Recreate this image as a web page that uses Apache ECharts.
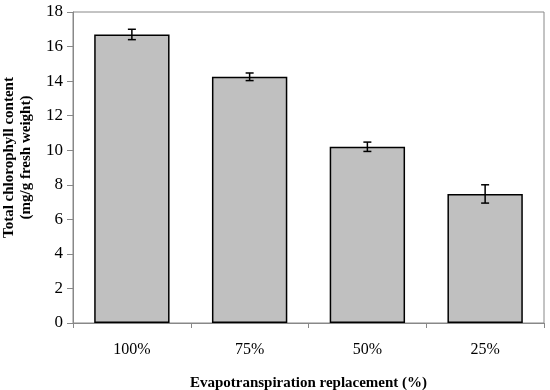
<!DOCTYPE html>
<html>
<head>
<meta charset="utf-8">
<script src="https://cdn.jsdelivr.net/npm/echarts@6/dist/echarts.min.js"></script>
<style>html,body{margin:0;padding:0;background:#fff}#c{width:550px;height:390px}</style>
</head>
<body>
<div id="c"></div>
<script>
const categories = ['100%', '75%', '50%', '25%'];
const values = [16.7, 14.25, 10.2, 7.47];
const errors = [0.3, 0.22, 0.27, 0.53];
const yTicks = [0, 2, 4, 6, 8, 10, 12, 14, 16, 18];

const chart = echarts.init(document.getElementById('c'));
const font = 'Liberation Serif, Times New Roman, serif';
chart.setOption({
  animation: false,
  grid: { left: 73, right: 6, top: 12, bottom: 67, show: true, borderColor: '#888', borderWidth: 1,
          containLabel: false, outerBoundsMode: 'none' },
  xAxis: {
    type: 'category', data: categories,
    axisLine: { lineStyle: { color: '#888', width: 1 } },
    axisTick: { show: true, alignWithLabel: false, length: 5, lineStyle: { color: '#888' } },
    axisLabel: { color: '#000', fontFamily: font, fontSize: 16, margin: 19 },
    name: 'Evapotranspiration replacement (%)', nameLocation: 'middle', nameGap: 53,
    nameTextStyle: { color: '#000', fontFamily: font, fontSize: 15, fontWeight: 'bold' }
  },
  yAxis: {
    type: 'value', min: yTicks[0], max: yTicks[yTicks.length - 1], interval: 2,
    splitLine: { show: false },
    axisLine: { show: true, lineStyle: { color: '#888', width: 1 } },
    axisTick: { show: true, length: 6, lineStyle: { color: '#888' } },
    axisLabel: { color: '#000', fontFamily: font, fontSize: 17, margin: 10 },
    name: 'Total chlorophyll content\n(mg/g fresh weight)', nameLocation: 'middle', nameGap: 36,
    nameTextStyle: { color: '#000', fontFamily: font, fontSize: 15, fontWeight: 'bold', lineHeight: 17, padding: [0, 0, 0, 20] }
  },
  series: [
    {
      type: 'bar', data: values, barCategoryGap: '36%',
      itemStyle: { color: '#c0c0c0', borderColor: '#000', borderWidth: 1.5 }
    },
    {
      type: 'custom',
      data: values.map((v, i) => [i, v - errors[i], v + errors[i]]),
      renderItem: function (params, api) {
        const x = api.value(0);
        const lo = api.coord([x, api.value(1)]);
        const hi = api.coord([x, api.value(2)]);
        const hw = 4;
        const st = { stroke: '#000', lineWidth: 1.5 };
        return {
          type: 'group', children: [
            { type: 'line', shape: { x1: lo[0], y1: lo[1], x2: hi[0], y2: hi[1] }, style: st },
            { type: 'line', shape: { x1: lo[0] - hw, y1: lo[1], x2: lo[0] + hw, y2: lo[1] }, style: st },
            { type: 'line', shape: { x1: hi[0] - hw, y1: hi[1], x2: hi[0] + hw, y2: hi[1] }, style: st }
          ]
        };
      },
      z: 5
    }
  ]
});
</script>
</body>
</html>
